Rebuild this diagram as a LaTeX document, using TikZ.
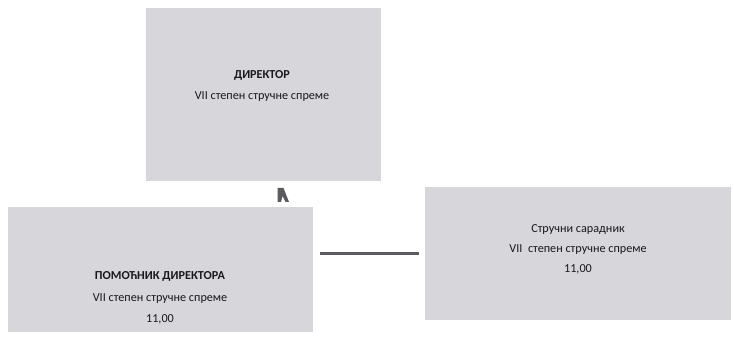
\documentclass[tikz,border=0pt]{standalone}
\usepackage{fontspec}
\setmainfont{Carlito}
\definecolor{boxgray}{RGB}{214,214,219}
\definecolor{inkgray}{RGB}{25,25,28}
\definecolor{linegray}{RGB}{90,90,95}
\begin{document}
\begin{tikzpicture}[x=1pt,y=1pt,
  orgbox/.style={fill=boxgray,draw=none,inner sep=0pt,anchor=center},
  boxtext/.style={text=inkgray,font=\fontsize{12.2}{21.5}\selectfont,align=center,inner sep=0pt},
  conn/.style={draw=linegray,line width=2.8pt}]
\useasboundingbox (0,0) rectangle (734,342);
\fill[white] (0,0) rectangle (734,342);
% boxes
\node[orgbox,minimum width=235pt,minimum height=173pt] (dir) at (263.5,247.5) {};
\node[orgbox,minimum width=305pt,minimum height=125pt] (asst) at (160.5,72.5) {};
\node[orgbox,minimum width=306pt,minimum height=133pt] (sa) at (578,88.5) {};
% texts
\node[boxtext] (dirtxt) at (262,256) {\textbf{ДИРЕКТОР}\\VII степен стручне спреме};
\node[boxtext] (assttxt) at (160,44) {\textbf{ПОМОЋНИК ДИРЕКТОРА}\\VII степен стручне спреме\\11,00};
\node[boxtext,font=\fontsize{12.2}{20}\selectfont] (satxt) at (578,93) {Стручни сарадник\\VII\ \ степен стручне спреме\\11,00};
% connector
\draw[conn] ([xshift=7pt]asst.east |- sa.west) -- ([xshift=-6pt]sa.west);
% small arrowhead mark
\fill[linegray] (277.5,140) -- (277.5,154) -- (283.5,154) -- (289,140) -- (285.5,140) -- (282.5,146) -- (281,140) -- cycle;
\end{tikzpicture}
\end{document}
